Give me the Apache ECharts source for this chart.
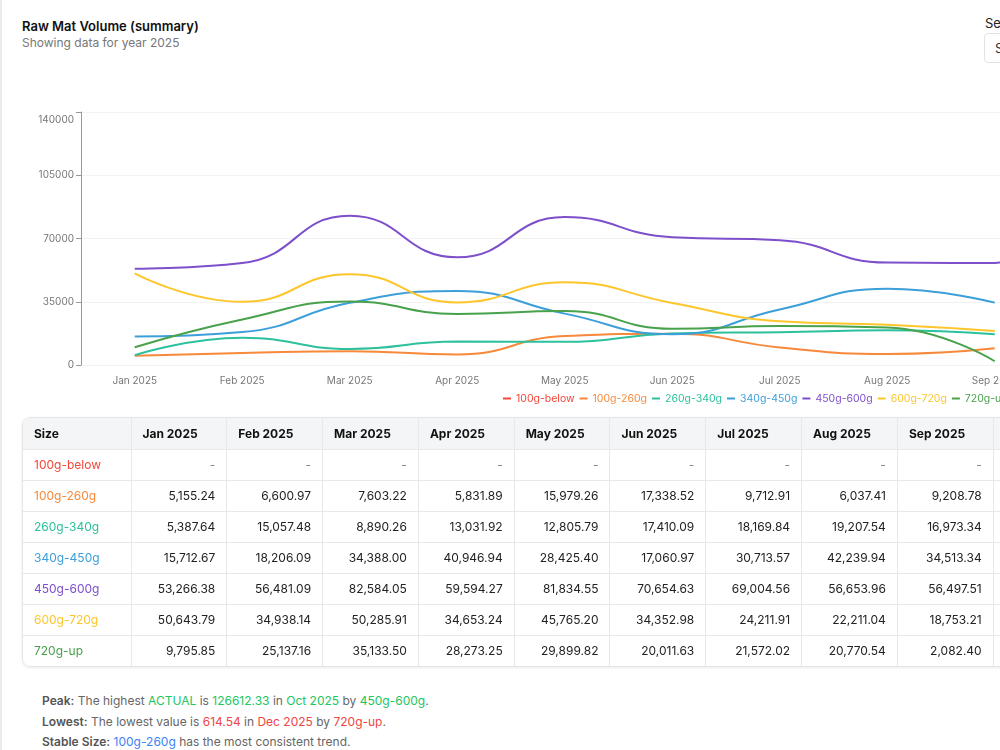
<!DOCTYPE html>
<html>
<head>
<meta charset="utf-8">
<title>Raw Mat Volume (summary)</title>
<script src="https://cdn.jsdelivr.net/npm/echarts@6/dist/echarts.min.js"></script>
<style>
    html, body { margin: 0; padding: 0; width: 1000px; height: 750px; overflow: hidden; background: #fff; }
    body { font-family: Inter, "Noto Sans", sans-serif; color: #222; }
    .page { position: relative; width: 1500px; height: 900px; }
    .strip { position: absolute; left: 0; top: 0; width: 2px; height: 100%; background: #ebebeb; }
    .title { position: absolute; left: 22px; top: 18px; font-size: 13px; font-weight: 600; color: #111; }
    .sub { position: absolute; left: 22px; top: 35px; font-size: 12px; color: #777; }
    .sel-label { position: absolute; left: 985px; top: 15px; font-size: 13px; color: #222; white-space: nowrap; }
    .sel-box { position: absolute; left: 984px; top: 33px; width: 160px; height: 30px; border: 1px solid #e2e2e2; border-radius: 4px;
        font-size: 13px; line-height: 28px; padding-left: 10px; box-sizing: border-box; color: #333; }
    #chart { position: absolute; left: 0; top: 90px; width: 1420px; height: 330px; }
    .card { position: absolute; left: 22px; top: 417px; border: 1px solid #e5e5e5; border-radius: 8px; overflow: hidden;
        box-shadow: 0 1px 3px rgba(0,0,0,0.08); }
    table { border-collapse: collapse; table-layout: fixed; font-size: 12px; }
    th, td { border-left: 1px solid #e8e8e8; border-top: 1px solid #e8e8e8; height: 31px; padding: 0 11px; white-space: nowrap; box-sizing: border-box; }
    tr:first-child th { border-top: none; }
    th:first-child, td:first-child { border-left: none; }
    th { background: #f4f5f6; font-weight: 700; text-align: left; color: #111; height: 31px; }
    td { text-align: right; color: #222; }
    td.name { text-align: left; }
    td.dash { color: #888; }
    .notes { position: absolute; left: 42px; top: 691px; font-size: 12px; color: #666; line-height: 20.5px; }
    .notes b { color: #555; font-weight: 600; }
    .g { color: #22c55e; }
    .r { color: #ef4444; }
    .bl { color: #3b82f6; }
</style>
</head>
<body>
<div class="page">
    <div class="strip"></div>
    <div class="title">Raw Mat Volume (summary)</div>
    <div class="sub">Showing data for year 2025</div>
    <div class="sel-label">Select Year</div>
    <div class="sel-box">Select</div>
    <div id="chart"></div>
    <div class="card"><table id="tbl"></table></div>
    <div class="notes">
        <div><b>Peak:</b> The highest <span class="g">ACTUAL</span> is <span class="g">126612.33</span> in <span class="g">Oct 2025</span> by <span class="g">450g-600g</span>.</div>
        <div><b>Lowest:</b> The lowest value is <span class="r">614.54</span> in <span class="r">Dec 2025</span> by <span class="r">720g-up</span>.</div>
        <div><b>Stable Size:</b> <span class="bl">100g-260g</span> has the most consistent trend.</div>
    </div>
</div>
<script>
    // 月份
    var months = ['Jan 2025', 'Feb 2025', 'Mar 2025', 'Apr 2025', 'May 2025', 'Jun 2025',
        'Jul 2025', 'Aug 2025', 'Sep 2025', 'Oct 2025', 'Nov 2025', 'Dec 2025']
    var sizes = ['100g-below', '100g-260g', '260g-340g', '340g-450g', '450g-600g', '600g-720g', '720g-up']

    // 各规格数据 (Oct-Dec only known where the notes state them)
    var below100 = [null, null, null, null, null, null, null, null, null, null, null, null]
    var g100to260 = [5155.24, 6600.97, 7603.22, 5831.89, 15979.26, 17338.52, 9712.91, 6037.41, 9208.78, null, null, null]
    var g260to340 = [5387.64, 15057.48, 8890.26, 13031.92, 12805.79, 17410.09, 18169.84, 19207.54, 16973.34, null, null, null]
    var g340to450 = [15712.67, 18206.09, 34388.00, 40946.94, 28425.40, 17060.97, 30713.57, 42239.94, 34513.34, null, null, null]
    var g450to600 = [53266.38, 56481.09, 82584.05, 59594.27, 81834.55, 70654.63, 69004.56, 56653.96, 56497.51, 126612.33, null, null]
    var g600to720 = [50643.79, 34938.14, 50285.91, 34653.24, 45765.20, 34352.98, 24211.91, 22211.04, 18753.21, null, null, null]
    var up720 = [9795.85, 25137.16, 35133.50, 28273.25, 29899.82, 20011.63, 21572.02, 20770.54, 2082.40, null, null, 614.54]

    var seriesData = [below100, g100to260, g260to340, g340to450, g450to600, g600to720, up720]
    var colors = ['#f2483a', '#f7893a', '#2cc19c', '#3c9fda', '#7d4fcb', '#fcc62c', '#47a24b']

    function fmt (v) {
        if (v === null || v === undefined) return '-'
        return v.toLocaleString('en-US', { minimumFractionDigits: 2, maximumFractionDigits: 2 })
    }

    // 表格
    var tbl = document.getElementById('tbl')
    var html = '<colgroup><col style="width:108px">'
    months.forEach(function () { html += '<col style="width:95.8px">' })
    html += '</colgroup><tr><th>Size</th>'
    months.forEach(function (m) { html += '<th>' + m + '</th>' })
    html += '</tr>'
    sizes.forEach(function (s, i) {
        html += '<tr><td class="name" style="color:' + colors[i] + '">' + s + '</td>'
        seriesData[i].forEach(function (v) {
            html += '<td' + (v === null ? ' class="dash"' : '') + '>' + fmt(v) + '</td>'
        })
        html += '</tr>'
    })
    tbl.innerHTML = html

    // 图表
    var chart = echarts.init(document.getElementById('chart'))
    chart.setOption({
        animation: false,
        color: colors,
        grid: { left: 81, top: 22, width: 1290, height: 253 },
        legend: {
            left: 498,
            top: 298,
            icon: 'rect',
            itemWidth: 8,
            itemHeight: 2,
            itemGap: 5,
            textStyle: { fontSize: 10.5, fontFamily: 'Inter' },
            data: sizes.map(function (s, i) {
                return { name: s, textStyle: { color: colors[i] } }
            })
        },
        xAxis: {
            type: 'category',
            data: months,
            boundaryGap: true,
            axisLine: { show: false },
            axisTick: { show: false },
            axisLabel: { color: '#777', fontSize: 10, fontFamily: 'Inter', margin: 11, interval: 0 }
        },
        yAxis: {
            type: 'value',
            min: 0,
            max: 140000,
            interval: 35000,
            axisLine: { show: true, lineStyle: { color: '#999' } },
            axisTick: { show: true, length: 5, lineStyle: { color: '#999' } },
            axisLabel: {
                color: '#777',
                fontSize: 10,
                fontFamily: 'Inter',
                margin: 7,
                formatter: function (v) {
                    return v === 140000 ? '{top|' + v + '}' : String(v)
                },
                rich: { top: { padding: [15, 0, 0, 0], color: '#777', fontSize: 10, fontFamily: 'Inter' } }
            },
            splitLine: { lineStyle: { color: '#f2f2f2' } }
        },
        series: sizes.map(function (s, i) {
            return {
                name: s,
                type: 'line',
                data: seriesData[i],
                smooth: 0.5,
                showSymbol: false,
                lineStyle: { width: 2 }
            }
        })
    })
</script>
</body>
</html>
